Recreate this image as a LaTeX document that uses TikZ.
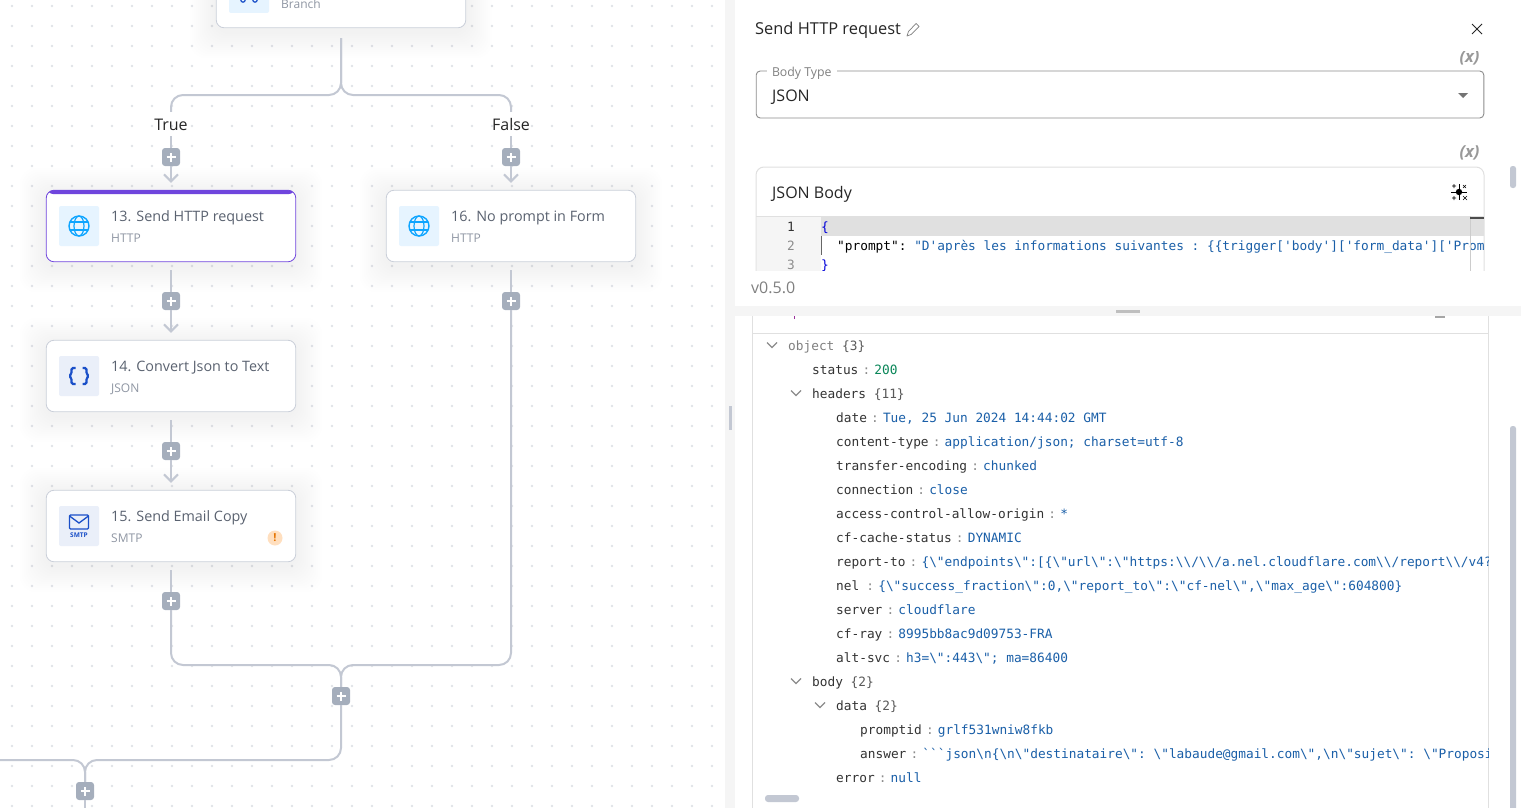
\documentclass[tikz,border=0pt]{standalone}
\usepackage{fontspec}
\setmainfont{Open Sans}
\newfontfamily\codefont{DejaVu Sans Mono}
\usetikzlibrary{arrows.meta,positioning,backgrounds}
\definecolor{wirecol}{HTML}{C3C8D3}
\definecolor{plusgray}{HTML}{A5AEBC}
\definecolor{griddot}{HTML}{E0E2E7}
\definecolor{cardedge}{HTML}{C9CED8}
\definecolor{cardtitle}{HTML}{5A6270}
\definecolor{cardsub}{HTML}{8F96A3}
\definecolor{selpurple}{HTML}{6F45DD}
\definecolor{globeblue}{HTML}{0EA5FF}
\definecolor{globebg}{HTML}{E6F4FF}
\definecolor{smtpblue}{HTML}{1A4FC8}
\definecolor{smtpbg}{HTML}{EAEFF9}
\definecolor{panelgray}{HTML}{F5F5F5}
\definecolor{lineedge}{HTML}{E0E0E0}
\definecolor{valblue}{HTML}{1A5FA8}
\definecolor{valgreen}{HTML}{098658}
\newcommand{\bs}{\textbackslash}
% key : value
\newcommand{\kv}[2]{{\color{black!80}#1}\makebox[16pt]{\color{black!45}:}{\color{valblue}#2}}
\newcommand{\kvgroup}[2]{{\color{black!80}#1} {\color{black!65}\{#2\}}}

\begin{document}
\begin{tikzpicture}[
    x=1pt, y=-1pt,
    card/.style={draw=cardedge, line width=0.8pt, fill=white, rounded corners=8pt, minimum width=249.6pt, minimum height=71.6pt, inner sep=0pt},
    selcard/.style={card, draw=selpurple, path picture={\fill[selpurple] (path picture bounding box.north west) rectangle ([yshift=-4pt]path picture bounding box.north east);}},
    iconbox/.style={rounded corners=2pt, minimum size=40pt, inner sep=0pt},
    globebox/.style={iconbox, fill=globebg, path picture={
        \draw[globeblue, line width=1.4pt] (path picture bounding box.center) circle (10pt);
        \draw[globeblue, line width=1.2pt] (path picture bounding box.center) ellipse (5pt and 10pt);
        \draw[globeblue, line width=1.2pt] ([shift={(-9,-4)}]path picture bounding box.center) -- ([shift={(9,-4)}]path picture bounding box.center);
        \draw[globeblue, line width=1.2pt] ([shift={(-9,4)}]path picture bounding box.center) -- ([shift={(9,4)}]path picture bounding box.center);}},
    cardname/.style={anchor=base west, inner sep=0pt, text=cardtitle, font=\fontsize{14.35}{16}\selectfont},
    cardtype/.style={anchor=base west, inner sep=0pt, text=cardsub, font=\fontsize{12}{14}\selectfont},
    plusbtn/.style={fill=plusgray, rounded corners=3pt, minimum size=18pt, inner sep=0pt, path picture={
        \draw[white, line width=2pt] ([xshift=-4.5pt]path picture bounding box.center) -- ([xshift=4.5pt]path picture bounding box.center);
        \draw[white, line width=2pt] ([yshift=-4.5pt]path picture bounding box.center) -- ([yshift=4.5pt]path picture bounding box.center);}},
    caselabel/.style={inner sep=0pt, text height=12pt, text depth=0pt, minimum height=24pt, text=black!85, font=\fontsize{16}{18}\selectfont},
    wire/.style={draw=wirecol, line width=2pt},
    wirearrow/.style={wire, -{Straight Barb[length=7pt,width=14pt,line width=2pt]}, shorten >=7pt},
    paneltext/.style={anchor=base west, inner sep=0pt, text=black!85, font=\fontsize{16}{18}\selectfont},
    treerow/.style={anchor=base west, inner sep=0pt, font=\fontsize{12.8}{15}\selectfont\codefont\frenchspacing},
    chev/.style={draw=black!45, line width=1.1pt},
    varmark/.style={inner sep=0pt, text=black!40, font=\fontsize{16.5}{18}\selectfont\bfseries\itshape}
]
\useasboundingbox (0,0) rectangle (1521,808);

% Cards
\node[card] (branch) at (341,-8) {};
\node[selcard] (n13) at (171,226) {};
\node[card] (n16) at (511,226) {};
\node[card] (n14) at (171,376) {};
\node[card] (n15) at (171,526) {};

% Canvas dots and card shadows
\begin{pgfonlayer}{background}
\foreach \x in {12,32,...,712}
    \foreach \y in {6,26,...,806}
        \fill[griddot] (\x,\y) circle (1.3);
\foreach \c in {branch,n13,n16,n14,n15}
    \foreach \s in {2,4,...,26}
        \fill[black, opacity=0.003, rounded corners=16pt] ([shift={(-\s,-\s+4)}]\c.north west) rectangle ([shift={(\s,\s+4)}]\c.south east);
\end{pgfonlayer}

% Card contents
\node[iconbox, fill=globebg] (ibranch) at (249,-7) {};
\draw[smtpblue, line width=1.2pt] (243,0) circle (2.2) (255,0) circle (2.2);
\node[cardtype] (tbranch) at (281,9) {Branch};

\node[globebox] (i13) at (79,226) {};
\node[cardname] (t13) at (111,221) {13. Send HTTP request};
\node[cardtype] (s13) at (111,242) {HTTP};

\node[globebox] (i16) at (419,226) {};
\node[cardname] (t16) at (451,221) {16. No prompt in Form};
\node[cardtype] (s16) at (451,242) {HTTP};

\node[iconbox, fill=smtpbg] (i14) at (79,376) {};
\draw[smtpblue, line width=2.2pt, rounded corners=1.5pt] (75.5,368) -- (71.5,368) -- (71.5,374) -- (69,376) -- (71.5,378) -- (71.5,384) -- (75.5,384);
\draw[smtpblue, line width=2.2pt, rounded corners=1.5pt] (82.5,368) -- (86.5,368) -- (86.5,374) -- (89,376) -- (86.5,378) -- (86.5,384) -- (82.5,384);
\node[cardname] (t14) at (111,371) {14. Convert Json to Text};
\node[cardtype] (s14) at (111,392) {JSON};

\node[iconbox, fill=smtpbg] (i15) at (79,526) {};
\draw[smtpblue, line width=1.3pt, rounded corners=1pt] (69.5,515) rectangle (88.5,529);
\draw[smtpblue, line width=1.3pt] (69.5,516) -- (79,523) -- (88.5,516);
\node[inner sep=0pt, text=smtpblue, font=\fontsize{6.5}{7}\selectfont\bfseries] (smtpmark) at (79,535) {SMTP};
\node[cardname] (t15) at (111,521) {15. Send Email Copy};
\node[cardtype] (s15) at (111,542) {SMTP};
\node[circle, fill=orange!25, minimum size=15pt, inner sep=0pt, text=orange!90!black, font=\fontsize{11}{11}\selectfont\bfseries] (warn15) at (275,538) {!};

% Branch labels and add buttons
\node[caselabel] (ltrue) at (171,124) {True};
\node[caselabel] (lfalse) at (511,124) {False};
\node[plusbtn] (p1) at (171,157) {};
\node[plusbtn] (p2) at (511,157) {};
\node[plusbtn] (p3) at (171,301) {};
\node[plusbtn] (p4) at (511,301) {};
\node[plusbtn] (p5) at (171,451) {};
\node[plusbtn] (p6) at (171,601) {};
\node[plusbtn] (p7) at (341,696) {};
\node[plusbtn] (p8) at (85,791) {};
\coordinate (jsplit) at (341,95);
\coordinate (jmerge) at (341,665);
\coordinate (jleft) at (85,760);
\coordinate (offleft) at (0,760);
\coordinate (offbottom) at (85,808);

% Connectors
\draw[wire, rounded corners=12pt, shorten <=10pt] (branch.south) -- (jsplit) -| (ltrue.north);
\draw[wire, rounded corners=12pt, shorten <=10pt] (branch.south) -- (jsplit) -| (lfalse.north);
\draw[wire] (ltrue) -- (p1);
\draw[wire] (lfalse) -- (p2);
\draw[wirearrow] (p1) -- (n13);
\draw[wirearrow] (p2) -- (n16);
\draw[wire, shorten <=8pt] (n13) -- (p3);
\draw[wirearrow] (p3) -- (n14);
\draw[wire, shorten <=8pt] (n14) -- (p5);
\draw[wirearrow] (p5) -- (n15);
\draw[wire, shorten <=8pt] (n15) -- (p6);
\draw[wire, shorten <=8pt] (n16) -- (p4);
\draw[wire, rounded corners=12pt] (p6) |- (jmerge) -- (p7);
\draw[wire, rounded corners=12pt] (p4) |- (jmerge) -- (p7);
\draw[wire, rounded corners=12pt] (p7) |- (jleft) -- (p8);
\draw[wire, rounded corners=12pt] (offleft) -- (jleft) -- (p8);
\draw[wire] (p8) -- (offbottom);

% Right panel
\fill[white] (725,0) rectangle (1521,808);
\fill[panelgray] (725,0) rectangle (735,808);
\fill[wirecol] (729,406) rectangle (732,430);

\node[paneltext, font=\fontsize{16.4}{18}\selectfont] (ptitle) at (755,35) {Send HTTP request};
\draw[black!50, line width=0.7pt, line join=round] (907,36) -- (908.5,31.5) -- (916,23.5) -- (919,26.5) -- (911,34.5) -- cycle;
\draw[black!85, line width=1pt] (1472,24) -- (1482,34) (1482,24) -- (1472,34);
\begin{scope}
\clip (735,52) rectangle (1521,70);
\node[varmark] (xtop) at (1469.5,58) {(x)};
\end{scope}

% Body type select
\node[draw=black!45, line width=0.9pt, rounded corners=4pt, minimum width=727.6pt, minimum height=47pt, inner sep=0pt] (bodytype) at (1120,94.5) {};
\node[anchor=base west, fill=white, inner sep=0pt, outer sep=0pt, text=black!50, font=\fontsize{12.3}{14}\selectfont, minimum height=14pt] (bodylabel) at (767,77) {\kern5pt Body Type\kern5pt};
\node[paneltext] (bodyval) at (772,101) {JSON};
\fill[black!55] (1458,93) -- (1468,93) -- (1463,98) -- cycle;

% JSON editor
\node[varmark] (xjson) at (1469.5,153) {(x)};
\node[draw=lineedge, line width=1pt, fill=white, rounded corners=8pt, minimum width=728pt, minimum height=140pt, inner sep=0pt] (jsoncard) at (1120,237) {};
\node[paneltext] (jsontitle) at (772,198) {JSON Body};
\draw[black, line width=0.6pt] (1451,192) -- (1467,192) (1459,184) -- (1459,200);
\fill[black] (1459,192) circle (3.2);
\draw[black, line width=0.6pt] (1452,186) -- (1456,186) (1454,184) -- (1454,188) (1452,198) -- (1456,198) (1454,196) -- (1454,200) (1463,185) -- (1466,188) (1466,185) -- (1463,188) (1463,196) -- (1467,200) (1467,196) -- (1463,200);
\fill[panelgray] (757,216) rectangle (821,271);
\fill[black!12] (821,216) rectangle (1483.5,236);
\draw[lineedge] (756,216) -- (1484,216);
\draw[black!60, line width=0.7pt] (821,236) -- (821,255);
\begin{scope}
\clip (757,216) rectangle (1484,271);
\node[treerow, text=black!80] (ln1) at (787,231) {1};
\node[treerow, text=black!45] (ln2) at (787,250) {2};
\node[treerow, text=black!45] (ln3) at (787,269) {3};
\node[treerow, text=blue!85!black] (code1) at (821,231) {\{};
\node[treerow, text=valblue] (code2) at (837,250) {{\color{black}"prompt": }"D'après les informations suivantes : \{\{trigger['body']['form\_data']['Prom};
\node[treerow, text=blue!85!black] (code3) at (821,269) {\}};
\end{scope}
\draw[black!20, line width=1pt] (1470,216) -- (1470,271);
\fill[black!70] (1470,217) rectangle (1484,219);

% Version strip
\fill[white] (735,271) rectangle (1521,306);
\node[anchor=base west, inner sep=0pt, text=black!50, font=\fontsize{16}{18}\selectfont] (version) at (751,293) {v0.5.0};
\fill[panelgray] (735,306) rectangle (1521,316);
\fill[black!25] (1116,310) rectangle (1140,313);
\fill[selpurple!70!red] (794,316) rectangle (795,319);
\fill[black!35] (1435,316) rectangle (1445,317.5);
\fill[wirecol, rounded corners=2.5pt] (1510,166) rectangle (1516,188);
\fill[wirecol, rounded corners=2.5pt] (1510,426) rectangle (1516,812);

% Output tree
\draw[lineedge, line width=1pt] (752,316) -- (752,808);
\draw[lineedge, line width=1pt] (1488,316) -- (1488,808);
\draw[lineedge, line width=1pt] (752,333) -- (1488,333);
\foreach \cx/\cy in {772/345,796/393,796/681,820/705}
    \draw[chev] (\cx-5,\cy-2.5) -- (\cx,\cy+2.5) -- (\cx+5,\cy-2.5);
\begin{scope}
\clip (752,333) rectangle (1488,808);
\node[treerow, text=black!50] (robject) at (788,350) {object {\color{black!65}\{3\}}};
\node[treerow] (rstatus) at (812,374) {{\color{black!80}status}\makebox[16pt]{\color{black!45}:}{\color{valgreen}200}};
\node[treerow] (rheaders) at (812,398) {\kvgroup{headers}{11}};
\node[treerow] (rdate) at (836,422) {\kv{date}{Tue, 25 Jun 2024 14:44:02 GMT}};
\node[treerow] (rctype) at (836,446) {\kv{content-type}{application/json; charset=utf-8}};
\node[treerow] (rencoding) at (836,470) {\kv{transfer-encoding}{chunked}};
\node[treerow] (rconn) at (836,494) {\kv{connection}{close}};
\node[treerow] (racao) at (836,518) {\kv{access-control-allow-origin}{*}};
\node[treerow] (rcache) at (836,542) {\kv{cf-cache-status}{DYNAMIC}};
\node[treerow] (rreport) at (836,566) {\kv{report-to}{\{\bs"endpoints\bs":[\{\bs"url\bs":\bs"https:\bs\bs/\bs\bs/a.nel.cloudflare.com\bs\bs/report\bs\bs/v4?}};
\node[treerow] (rnel) at (836,590) {\kv{nel\hspace{3pt}}{\{\bs"success\_fraction\bs":0,\bs"report\_to\bs":\bs"cf-nel\bs",\bs"max\_age\bs":604800\}}};
\node[treerow] (rserver) at (836,614) {\kv{server}{cloudflare}};
\node[treerow] (rray) at (836,638) {\kv{cf-ray}{8995bb8ac9d09753-FRA}};
\node[treerow] (ralt) at (836,662) {\kv{alt-svc}{h3=\bs":443\bs"; ma=86400}};
\node[treerow] (rbody) at (812,686) {\kvgroup{body}{2}};
\node[treerow] (rdata) at (836,710) {\kvgroup{data}{2}};
\node[treerow] (rprompt) at (860,734) {\kv{promptid}{grlf531wniw8fkb}};
\node[treerow] (ranswer) at (860,758) {\kv{answer}{```json\bs n\{\bs n\bs"destinataire\bs": \bs"labaude@gmail.com\bs",\bs n\bs"sujet\bs": \bs"Proposi}};
\node[treerow] (rerror) at (836,782) {\kv{error}{null}};
\end{scope}
\fill[wirecol, rounded corners=3pt] (765,795) rectangle (799,802);

\end{tikzpicture}
\end{document}
